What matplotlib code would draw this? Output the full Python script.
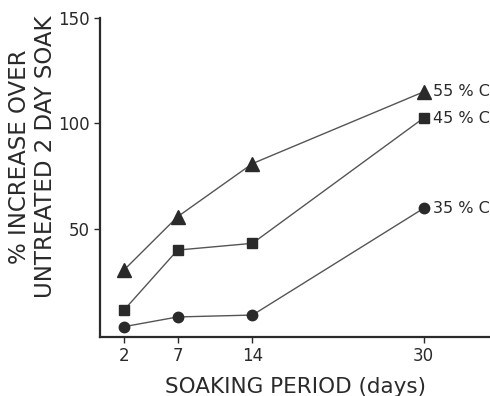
import matplotlib
matplotlib.use("Agg")
import matplotlib.pyplot as plt

# Soaking period (days) and % increase over untreated 2-day soak
days = [2, 7, 14, 30]
inc_55 = [30.6, 55.8, 81.0, 115.0]
inc_45 = [11.6, 40.0, 43.2, 102.6]
inc_35 = [3.7, 8.3, 9.2, 59.8]
series_labels = ["55 % C", "45 % C", "35 % C"]
x_ticks = [2, 7, 14, 30]
y_ticks = [50, 100, 150]

plt.rcParams["font.family"] = ["DejaVu Sans"]
ink = "#2a2a2a"

fig = plt.figure(figsize=(4.9, 3.96), dpi=100)
ax = fig.add_axes([100 / 490, 59 / 396, 390 / 490, 319 / 396])

for vals, mk, ms, lab in [
    (inc_55, "^", 10, series_labels[0]),
    (inc_45, "s", 7.5, series_labels[1]),
    (inc_35, "o", 7.5, series_labels[2]),
]:
    ax.plot(days, vals, color="#555555", lw=1.0, marker=mk, ms=ms,
            mfc=ink, mec=ink, zorder=3)
    ax.annotate(lab, (days[-1], vals[-1]), xytext=(7, 0),
                textcoords="offset points", va="center", ha="left",
                fontsize=11.5, color=ink)

ax.set_xlim(-0.25, 36.2)
ax.set_ylim(-1.2, 150)
ax.set_xticks(x_ticks)
ax.set_yticks(y_ticks)
ax.tick_params(direction="out", length=4, width=1.0, colors=ink,
               labelsize=12, labelcolor=ink)
for s in ("top", "right"):
    ax.spines[s].set_visible(False)
for s in ("left", "bottom"):
    ax.spines[s].set_linewidth(1.6)
    ax.spines[s].set_color(ink)

ax.set_xlabel("SOAKING PERIOD (days)", fontsize=15.5, color=ink, labelpad=8)
ax.set_ylabel("% INCREASE OVER\nUNTREATED 2 DAY SOAK", fontsize=16.5,
              color=ink, linespacing=1.15)
ax.yaxis.set_label_coords(-0.11, 0.565)

fig.savefig("out.png", dpi=100)
